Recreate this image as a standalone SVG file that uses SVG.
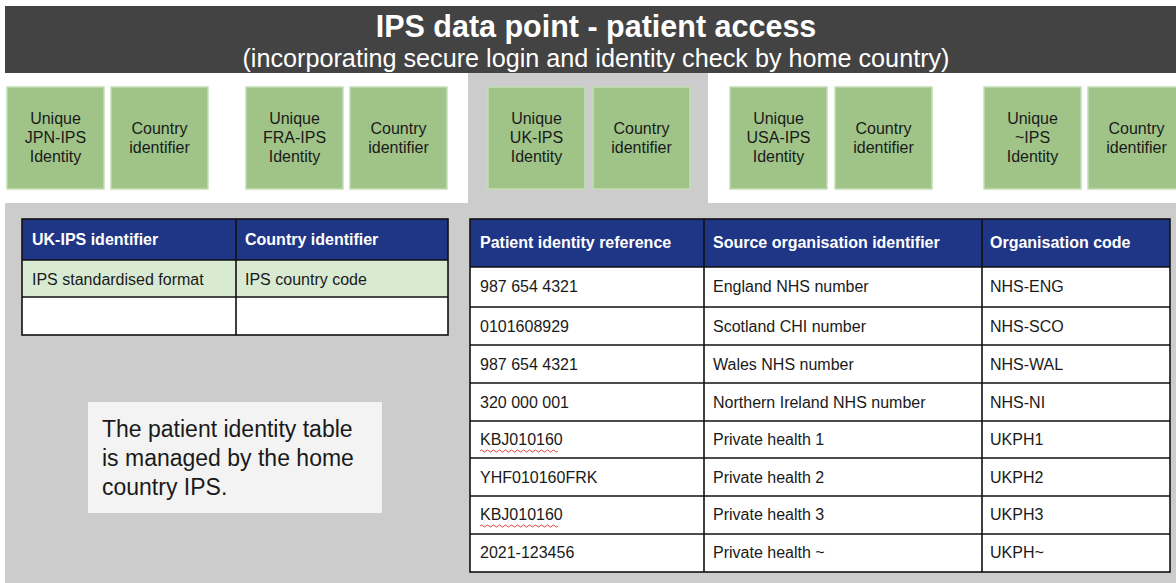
<svg xmlns="http://www.w3.org/2000/svg" width="1176" height="583" viewBox="0 0 1176 583">
<style>
.t{font-family:"Liberation Sans",Arial,sans-serif;}
.box{fill:#a0c488;stroke:#c4ddb5;stroke-width:1.5;}
.bt{font-family:"Liberation Sans",Arial,sans-serif;font-size:16px;fill:#1a1a1a;text-anchor:middle;}
.th{fill:#1f3585;}
.grid{fill:none;stroke:#111;stroke-width:1.6;}
.hd{font-family:"Liberation Sans",Arial,sans-serif;font-size:16px;font-weight:bold;fill:#fff;}
.cell{font-family:"Liberation Sans",Arial,sans-serif;font-size:16px;fill:#1a1a1a;}
</style>
<rect width="1176" height="583" fill="#ffffff"/>
<!-- gray region -->
<path d="M468,73 H708 V203 H1176 V583 H5 V203 H468 Z" fill="#cccccc"/>
<!-- header -->
<g id="header">
<rect x="5" y="6" width="1171" height="67" fill="#434343"/>
<text class="t" x="596" y="37" font-size="30.5" font-weight="bold" fill="#fff" text-anchor="middle">IPS data point - patient access</text>
<text class="t" x="596" y="67" font-size="25.2" fill="#fff" text-anchor="middle">(incorporating secure login and identity check by home country)</text>
</g>
<g id="jpn"><rect class="box" x="7" y="87" width="97" height="102"/><text class="bt" x="55.5" y="124">Unique</text><text class="bt" x="55.5" y="143">JPN-IPS</text><text class="bt" x="55.5" y="162">Identity</text></g>
<g id="jpn-country"><rect class="box" x="111" y="87" width="97" height="102"/><text class="bt" x="159.5" y="134">Country</text><text class="bt" x="159.5" y="153">identifier</text></g>
<g id="fra"><rect class="box" x="246" y="87" width="97" height="102"/><text class="bt" x="294.5" y="124">Unique</text><text class="bt" x="294.5" y="143">FRA-IPS</text><text class="bt" x="294.5" y="162">Identity</text></g>
<g id="fra-country"><rect class="box" x="350" y="87" width="97" height="102"/><text class="bt" x="398.5" y="134">Country</text><text class="bt" x="398.5" y="153">identifier</text></g>
<g id="uk"><rect class="box" x="488" y="87" width="97" height="102"/><text class="bt" x="536.5" y="124">Unique</text><text class="bt" x="536.5" y="143">UK-IPS</text><text class="bt" x="536.5" y="162">Identity</text></g>
<g id="uk-country"><rect class="box" x="593" y="87" width="97" height="102"/><text class="bt" x="641.5" y="134">Country</text><text class="bt" x="641.5" y="153">identifier</text></g>
<g id="usa"><rect class="box" x="730" y="87" width="97" height="102"/><text class="bt" x="778.5" y="124">Unique</text><text class="bt" x="778.5" y="143">USA-IPS</text><text class="bt" x="778.5" y="162">Identity</text></g>
<g id="usa-country"><rect class="box" x="835" y="87" width="97" height="102"/><text class="bt" x="883.5" y="134">Country</text><text class="bt" x="883.5" y="153">identifier</text></g>
<g id="other"><rect class="box" x="984" y="87" width="97" height="102"/><text class="bt" x="1032.5" y="124">Unique</text><text class="bt" x="1032.5" y="143">~IPS</text><text class="bt" x="1032.5" y="162">Identity</text></g>
<g id="other-country"><rect class="box" x="1088" y="87" width="97" height="102"/><text class="bt" x="1136.5" y="134">Country</text><text class="bt" x="1136.5" y="153">identifier</text></g>
<!-- left table -->
<g id="uk-table">
<rect class="th" x="22" y="219" width="426" height="41"/>
<rect x="22" y="260" width="426" height="37" fill="#d9ead3"/>
<rect x="22" y="297" width="426" height="38" fill="#ffffff"/>
<rect class="grid" x="22" y="219" width="426" height="116"/>
<path class="grid" d="M236,219 V335 M22,260 H448 M22,297 H448"/>
<text class="hd" x="32" y="245">UK-IPS identifier</text>
<text class="hd" x="245" y="245">Country identifier</text>
<text class="cell" x="32" y="285">IPS standardised format</text>
<text class="cell" x="245" y="285">IPS country code</text>
</g>
<!-- right table -->
<g id="identity-table">
<rect class="th" x="470" y="219" width="700" height="48"/>
<rect x="470" y="267" width="700" height="305" fill="#ffffff"/>
<rect class="grid" x="470" y="219" width="700" height="353"/>
<path class="grid" d="M704,219 V572 M982,219 V572 M470,267 H1170 M470,307 H1170 M470,345 H1170 M470,383 H1170 M470,421 H1170 M470,458 H1170 M470,496 H1170 M470,534 H1170"/>
<text class="hd" x="480" y="248">Patient identity reference</text>
<text class="hd" x="713" y="248">Source organisation identifier</text>
<text class="hd" x="990" y="248">Organisation code</text>
<text class="cell" x="480" y="292">987 654 4321</text><text class="cell" x="713" y="292">England NHS number</text><text class="cell" x="990" y="292">NHS-ENG</text>
<text class="cell" x="480" y="332">0101608929</text><text class="cell" x="713" y="332">Scotland CHI number</text><text class="cell" x="990" y="332">NHS-SCO</text>
<text class="cell" x="480" y="370">987 654 4321</text><text class="cell" x="713" y="370">Wales NHS number</text><text class="cell" x="990" y="370">NHS-WAL</text>
<text class="cell" x="480" y="408">320 000 001</text><text class="cell" x="713" y="408">Northern Ireland NHS number</text><text class="cell" x="990" y="408">NHS-NI</text>
<text class="cell" x="480" y="445">KBJ010160</text><text class="cell" x="713" y="445">Private health 1</text><text class="cell" x="990" y="445">UKPH1</text>
<text class="cell" x="480" y="483">YHF010160FRK</text><text class="cell" x="713" y="483">Private health 2</text><text class="cell" x="990" y="483">UKPH2</text>
<text class="cell" x="480" y="520">KBJ010160</text><text class="cell" x="713" y="520">Private health 3</text><text class="cell" x="990" y="520">UKPH3</text>
<text class="cell" x="480" y="558">2021-123456</text><text class="cell" x="713" y="558">Private health ~</text><text class="cell" x="990" y="558">UKPH~</text>
<path d="M480,451 q1.5,-2 3,0 t3,0 t3,0 t3,0 t3,0 t3,0 t3,0 t3,0 t3,0 t3,0 t3,0 t3,0 t3,0 t3,0 t3,0 t3,0 t3,0 t3,0 t3,0 t3,0 t3,0 t3,0 t3,0 t3,0 t3,0 t3,0" fill="none" stroke="#e03030" stroke-width="0.9"/>
<path d="M480,526 q1.5,-2 3,0 t3,0 t3,0 t3,0 t3,0 t3,0 t3,0 t3,0 t3,0 t3,0 t3,0 t3,0 t3,0 t3,0 t3,0 t3,0 t3,0 t3,0 t3,0 t3,0 t3,0 t3,0 t3,0 t3,0 t3,0 t3,0" fill="none" stroke="#e03030" stroke-width="0.9"/>
</g>
<g id="note">
<rect x="88" y="402" width="294" height="111" fill="#f3f3f3"/>
<text class="t" font-size="23" fill="#1a1a1a"><tspan x="102" y="437">The patient identity table</tspan><tspan x="102" y="466">is managed by the home</tspan><tspan x="102" y="495">country IPS.</tspan></text>
</g>
</svg>
